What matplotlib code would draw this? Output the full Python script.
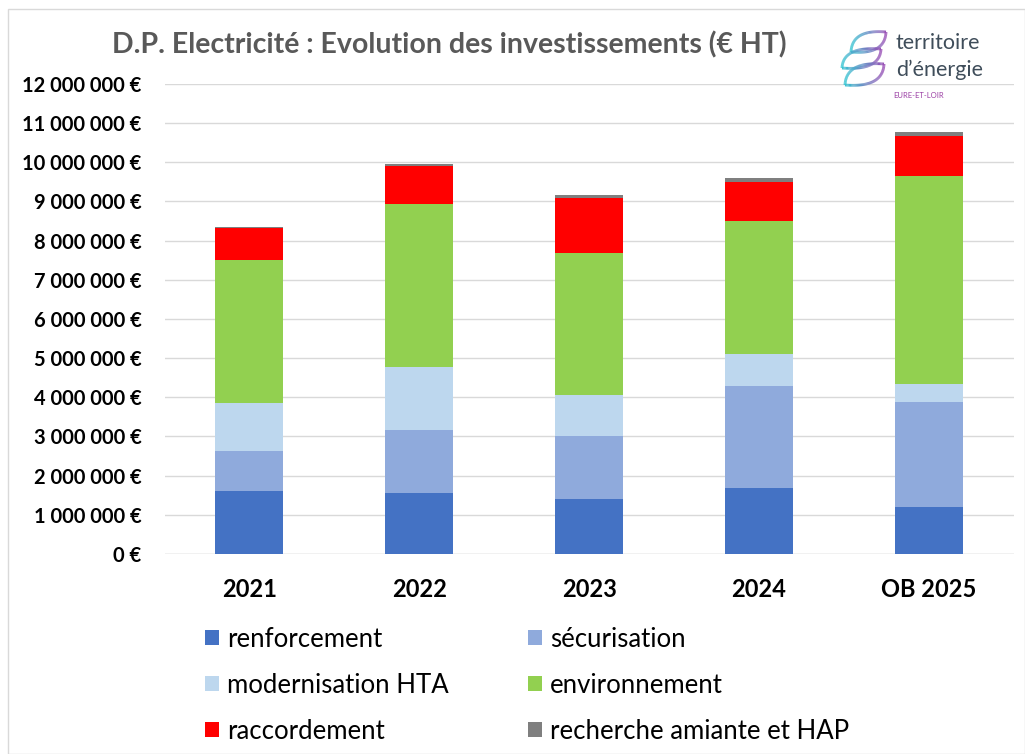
import matplotlib.pyplot as plt
import numpy as np
from matplotlib.patches import Rectangle
from matplotlib.collections import LineCollection
from matplotlib.colors import to_rgb

plt.rcParams['font.family'] = ['Lato', 'DejaVu Sans']

years = ["2021", "2022", "2023", "2024", "OB 2025"]
renforcement = [1610000, 1560000, 1400000, 1690000, 1190000]
securisation = [1010000, 1610000, 1600000, 2590000, 2690000]
modernisation = [1230000, 1600000, 1050000, 830000, 470000]
environnement = [3650000, 4170000, 3640000, 3400000, 5310000]
raccordement = [820000, 960000, 1400000, 980000, 1000000]
recherche = [30000, 60000, 70000, 110000, 110000]

series = [
    ("renforcement", renforcement, "#4472C4"),
    ("sécurisation", securisation, "#8FAADC"),
    ("modernisation HTA", modernisation, "#BDD7EE"),
    ("environnement", environnement, "#92D050"),
    ("raccordement", raccordement, "#FF0000"),
    ("recherche amiante et HAP", recherche, "#7F7F7F"),
]

W, H = 1025, 754


def fmt_euro(v):
    return f"{v:,.0f}".replace(",", " ") + " €"


def px(xp, yp):
    # pixel position (from top-left) -> figure fraction
    return xp / W, 1 - yp / H


fig = plt.figure(figsize=(W / 100, H / 100), dpi=100)
ax = fig.add_axes([0.1605, 0.2653, 0.8285, 0.6233])

x = np.arange(len(years))
bottom = np.zeros(len(years))
handles = {}
for name, vals, col in series:
    b = ax.bar(x, vals, 0.4, bottom=bottom, color=col, label=name, zorder=3)
    handles[name] = b
    bottom += np.array(vals)

ax.set_xlim(-0.5, len(years) - 0.5)
ax.set_ylim(0, 12000000)
yt = np.arange(0, 12000001, 1000000)
ax.set_yticks(yt)
ax.set_yticklabels([fmt_euro(v) for v in yt], fontsize=14.5, fontweight='bold')
ax.set_xticks(x)
ax.set_xticklabels(years, fontsize=17, fontweight='bold')
ax.tick_params(axis='y', length=0, pad=16.5)
ax.tick_params(axis='x', length=0, pad=17)
ax.grid(axis='y', color='#d9d9d9', linewidth=1, zorder=0)
for s in ax.spines.values():
    s.set_visible(False)
ax.axhline(0, color='#d9d9d9', linewidth=1, zorder=1)

fig.text(0.4385, 0.94, "D.P. Electricité : Evolution des investissements (€ HT)",
         ha='center', va='center', fontsize=20.5, fontweight='bold', color='#595959')

# legend is filled column by column, so re-order to get the rows right
order = ["renforcement", "modernisation HTA", "raccordement",
         "sécurisation", "environnement", "recherche amiante et HAP"]
fig.legend([handles[n] for n in order], order, ncol=2, frameon=False,
           loc='upper left', bbox_to_anchor=(0.1873, 0.186), borderpad=0,
           fontsize=18.5, handlelength=0.55, handleheight=0.55, handletextpad=0.3,
           columnspacing=3.1, labelspacing=0.82)

# logo: three leaf shaped swooshes, cyan -> purple
c0, c1 = np.array(to_rgb("#36c6d3")), np.array(to_rgb("#9a4fb6"))
tt = np.linspace(0, 1, 60)
for (x0, y0, x1, y1) in [(851, 52, 886, 32), (842, 68, 881, 49), (845, 85, 884, 64)]:
    ctrl_top = (x0 + 1, y1 - 3)
    ctrl_bot = (x1 - 1, y0 + 3)
    top = [((1 - t) ** 2 * x0 + 2 * (1 - t) * t * ctrl_top[0] + t ** 2 * x1,
            (1 - t) ** 2 * y0 + 2 * (1 - t) * t * ctrl_top[1] + t ** 2 * y1) for t in tt]
    bot = [((1 - t) ** 2 * x1 + 2 * (1 - t) * t * ctrl_bot[0] + t ** 2 * x0,
            (1 - t) ** 2 * y1 + 2 * (1 - t) * t * ctrl_bot[1] + t ** 2 * y0) for t in tt]
    pts = np.array([px(a, b) for a, b in top + bot])
    segs = np.stack([pts[:-1], pts[1:]], axis=1)
    frac = (segs[:, 0, 0] * W - x0) / (x1 - x0)
    cols = [c0 + (c1 - c0) * np.clip(f, 0, 1) for f in frac]
    lc = LineCollection(segs, colors=cols, linewidths=2, transform=fig.transFigure)
    fig.add_artist(lc)

fig.text(*px(896, 43), "territoire", fontsize=15.5, color='#3f4d5a', va='center')
fig.text(*px(896, 70), "d’énergie", fontsize=15.5, color='#3f4d5a', va='center')
fig.text(*px(893, 96), "EURE-ET-LOIR", fontsize=5.5, color='#9b3fa4', va='center')

fig.add_artist(Rectangle(px(8, 754), 1 - 8 / W, 1 - 9 / H, transform=fig.transFigure,
                         fill=False, edgecolor='#d9d9d9', lw=1))

fig.savefig("out.png", dpi=100)
